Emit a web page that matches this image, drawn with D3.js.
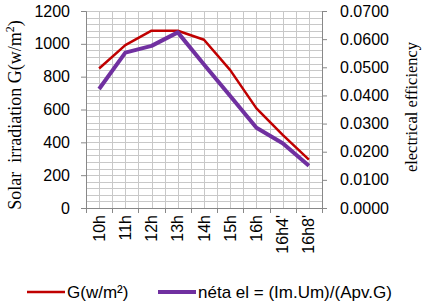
<!DOCTYPE html>
<html>
<head>
<meta charset="utf-8">
<script src="https://cdn.jsdelivr.net/npm/d3@7"></script>
<style>
body { margin: 0; background: #fff; }
svg text { font-family: "Liberation Sans", Arial, sans-serif; }
</style>
</head>
<body>
<div id="chart"></div>
<script>
var categories = ["10h", "11h", "12h", "13h", "14h", "15h", "16h", "16h4'", "16h8'"];
var irradiation = [850, 992, 1080, 1080, 1025, 840, 607, 445, 295];
var efficiency = [0.0423, 0.0552, 0.0576, 0.0624, 0.0510, 0.0398, 0.0285, 0.0230, 0.0150];
var leftTicks = [0, 200, 400, 600, 800, 1000, 1200];
var rightTicks = [0, 0.01, 0.02, 0.03, 0.04, 0.05, 0.06, 0.07];

var colors = ["#c00000", "#7030a0"];

var W = 424, H = 306;
var margin = { top: 11, right: 102, bottom: 98, left: 86 },
    width = W - margin.left - margin.right,
    height = H - margin.top - margin.bottom;

var svg = d3.select("#chart")
    .append("svg")
    .attr("width", W)
    .attr("height", H);

var g = svg.append("g")
    .attr("transform", "translate(" + margin.left + "," + margin.top + ")");

var x = d3.scaleBand()
    .domain(categories)
    .range([0, width]);

var y = d3.scaleLinear()
    .domain([0, 1200])
    .range([height, 0]);

var y2 = d3.scaleLinear()
    .domain([0, 0.07])
    .range([height, 0]);

// minor grid, horizontal every 40 units
var hGrid = d3.range(40, 1201, 40);
g.selectAll(".hgrid").data(hGrid).enter()
    .append("line")
    .attr("x1", 0).attr("x2", width)
    .attr("y1", function(d) { return Math.round(y(d)) + 0.5; })
    .attr("y2", function(d) { return Math.round(y(d)) + 0.5; })
    .attr("stroke", "#c8c8c8")
    .attr("stroke-width", 1);

// vertical grid at band edges and centers
var vGrid = [];
categories.forEach(function(c) {
    vGrid.push(x(c) + x.bandwidth() / 2);
    vGrid.push(x(c) + x.bandwidth());
});
g.selectAll(".vgrid").data(vGrid).enter()
    .append("line")
    .attr("x1", function(d) { return Math.round(d) + 0.5; })
    .attr("x2", function(d) { return Math.round(d) + 0.5; })
    .attr("y1", 0).attr("y2", height)
    .attr("stroke", "#c8c8c8")
    .attr("stroke-width", 1);

// left axis
var yAxis = g.append("g")
    .call(d3.axisLeft(y).tickValues(leftTicks).tickSize(5).tickPadding(11)
        .tickFormat(d3.format("d")));
yAxis.select(".domain").attr("stroke", "#888");
yAxis.selectAll(".tick line").attr("stroke", "#888");
yAxis.selectAll("text").attr("font-size", 16).attr("fill", "#000");

// right axis
var y2Axis = g.append("g")
    .attr("transform", "translate(" + width + ",0)")
    .call(d3.axisRight(y2).tickValues(rightTicks).tickSize(5).tickPadding(13)
        .tickFormat(d3.format(".4f")));
y2Axis.select(".domain").attr("stroke", "#888");
y2Axis.selectAll(".tick line").attr("stroke", "#888");
y2Axis.selectAll("text").attr("font-size", 16).attr("fill", "#000");

// bottom axis
var xAxis = g.append("g")
    .attr("transform", "translate(0," + height + ")")
    .call(d3.axisBottom(x).tickSize(0));
xAxis.select(".domain").attr("stroke", "#888");
xAxis.selectAll(".tick text")
    .attr("font-size", 16)
    .attr("fill", "#000")
    .attr("transform", "rotate(-90)")
    .attr("text-anchor", "end")
    .attr("x", -7)
    .attr("y", 0)
    .attr("dy", "0.35em");
// boundary tick marks
var edges = [0].concat(categories.map(function(c) { return x(c) + x.bandwidth(); }));
xAxis.selectAll(".edge").data(edges).enter()
    .append("line")
    .attr("x1", function(d) { return Math.round(d) + 0.5; })
    .attr("x2", function(d) { return Math.round(d) + 0.5; })
    .attr("y1", 0).attr("y2", 5)
    .attr("stroke", "#888");

// lines
var line1 = d3.line()
    .x(function(d, i) { return x(categories[i]) + x.bandwidth() / 2; })
    .y(function(d) { return y(d); });
var line2 = d3.line()
    .x(function(d, i) { return x(categories[i]) + x.bandwidth() / 2; })
    .y(function(d) { return y2(d); });

g.append("path")
    .datum(irradiation)
    .attr("d", line1)
    .attr("fill", "none")
    .attr("stroke", colors[0])
    .attr("stroke-width", 2.5)
    .attr("stroke-linejoin", "round");

g.append("path")
    .datum(efficiency)
    .attr("d", line2)
    .attr("fill", "none")
    .attr("stroke", colors[1])
    .attr("stroke-width", 4)
    .attr("stroke-linejoin", "round");

// axis titles
var lt = svg.append("text")
    .attr("transform", "translate(21,115) rotate(-90)")
    .attr("text-anchor", "middle")
    .style("font-family", "'Liberation Serif', 'Times New Roman', serif")
    .attr("font-size", 18)
    .attr("fill", "#000");
lt.append("tspan").attr("xml:space", "preserve").text("Solar  irradiation G(w/m");
lt.append("tspan").attr("font-size", 12).attr("dy", -7).text("2");
lt.append("tspan").attr("dy", 7).text(")");

svg.append("text")
    .attr("transform", "translate(417,107) rotate(-90)")
    .attr("text-anchor", "middle")
    .style("font-family", "'Liberation Serif', 'Times New Roman', serif")
    .attr("font-size", 16.5)
    .attr("fill", "#000")
    .text("electrical efficiency");

// legend
var legend = [
    { label: "G(w/m²)", color: colors[0], w: 2.5, x: 27 },
    { label: "néta el = (Im.Um)/(Apv.G)", color: colors[1], w: 4, x: 158 }
];
var lg = svg.selectAll(".legend").data(legend).enter()
    .append("g")
    .attr("transform", function(d) { return "translate(" + d.x + ",292)"; });
lg.append("line")
    .attr("x1", 0).attr("x2", 38)
    .attr("stroke", function(d) { return d.color; })
    .attr("stroke-width", function(d) { return d.w; });
lg.append("text")
    .attr("x", 40)
    .attr("dy", "0.35em")
    .attr("font-size", 17)
    .attr("fill", "#000")
    .text(function(d) { return d.label; });
</script>
</body>
</html>
